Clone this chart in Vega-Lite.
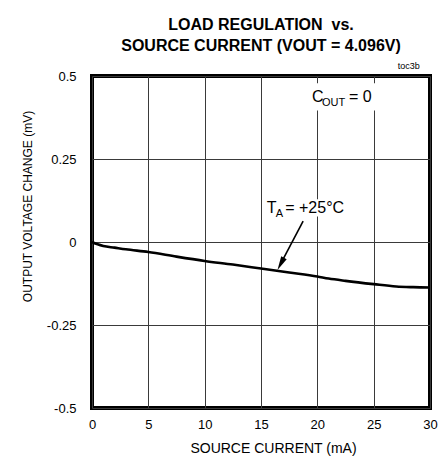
{
  "$schema": "https://vega.github.io/schema/vega-lite/v6.json",
  "width": 338,
  "height": 332,
  "autosize": {"type": "none"},
  "padding": {"left": 92, "top": 76, "right": 8, "bottom": 56},
  "background": "white",
  "title": {
    "text": ["LOAD REGULATION\u00a0 vs.", "SOURCE CURRENT (VOUT = 4.096V)"],
    "font": "Liberation Sans",
    "fontSize": 16,
    "fontWeight": "bold",
    "color": "black",
    "anchor": "middle",
    "offset": 8,
    "lineHeight": 21
  },
  "config": {
    "view": {"stroke": "black", "strokeWidth": 4},
    "axis": {
      "labelFont": "Liberation Sans",
      "titleFont": "Liberation Sans",
      "labelColor": "black",
      "titleColor": "black",
      "titleFontWeight": "normal",
      "ticks": false,
      "domain": false,
      "gridColor": "#3a3a3a",
      "gridWidth": 1,
      "gridOpacity": 1
    }
  },
  "encoding": {
    "x": {
      "field": "x",
      "type": "quantitative",
      "scale": {"domain": [0, 30], "nice": false, "zero": false},
      "axis": {
        "values": [0, 5, 10, 15, 20, 25, 30],
        "title": "SOURCE CURRENT (mA)",
        "labelFontSize": 13,
        "labelPadding": 10,
        "titleFontSize": 14,
        "titleX": 181,
        "titleY": 40,
        "titleBaseline": "middle",
        "titleAlign": "center",
        "labelFlush": false
      }
    },
    "y": {
      "field": "y",
      "type": "quantitative",
      "scale": {"domain": [-0.5, 0.5], "nice": false, "zero": false},
      "axis": {
        "values": [-0.5, -0.25, 0, 0.25, 0.5],
        "labelExpr": "toString(datum.value)",
        "title": "OUTPUT VOLTAGE CHANGE (mV)",
        "labelFontSize": 13,
        "labelPadding": 16,
        "titleFontSize": 12,
        "titleX": -65,
        "titleY": 130,
        "titleAngle": -90,
        "titleBaseline": "middle",
        "titleAlign": "center",
        "labelFlush": false
      }
    }
  },
  "layer": [
    {
      "data": {"values": [
        {"x": 0, "y": 0},
        {"x": 0.5, "y": -0.007},
        {"x": 1, "y": -0.012},
        {"x": 2, "y": -0.017},
        {"x": 3, "y": -0.022},
        {"x": 5, "y": -0.030},
        {"x": 7.5, "y": -0.044},
        {"x": 10, "y": -0.057},
        {"x": 12.5, "y": -0.068},
        {"x": 15, "y": -0.080},
        {"x": 17.5, "y": -0.092},
        {"x": 20, "y": -0.104},
        {"x": 21, "y": -0.110},
        {"x": 22.5, "y": -0.117},
        {"x": 25, "y": -0.127},
        {"x": 27, "y": -0.134},
        {"x": 28.5, "y": -0.136},
        {"x": 30, "y": -0.137}
      ]},
      "mark": {"type": "line", "color": "black", "strokeWidth": 2.6, "interpolate": "monotone"}
    },
    {
      "data": {"values": [
        {"x": 19.4, "xe": 25.3, "y": 0.396, "ye": 0.478},
        {"x": 15.4, "xe": 22.6, "y": 0.077, "ye": 0.129}
      ]},
      "mark": {"type": "rect", "fill": "white", "stroke": null},
      "encoding": {"x2": {"field": "xe"}, "y2": {"field": "ye"}}
    },
    {
      "data": {"values": [
        {"x": 15.5, "y": 0.086, "t": "T"},
        {"x": 17.15, "y": 0.086, "t": "= +25°C"},
        {"x": 19.52, "y": 0.421, "t": "C"},
        {"x": 22.8, "y": 0.421, "t": "= 0"}
      ]},
      "mark": {"type": "text", "font": "Liberation Sans", "fontSize": 16, "align": "left", "baseline": "alphabetic", "color": "black"},
      "encoding": {"text": {"field": "t"}}
    },
    {
      "data": {"values": [
        {"x": 16.3, "y": 0.074, "t": "A"},
        {"x": 20.41, "y": 0.409, "t": "OUT"}
      ]},
      "mark": {"type": "text", "font": "Liberation Sans", "fontSize": 11, "align": "left", "baseline": "alphabetic", "color": "black"},
      "encoding": {"text": {"field": "t"}}
    },
    {
      "data": {"values": [{"x": 29.1, "y": 0.53, "t": "toc3b"}]},
      "mark": {"type": "text", "font": "Liberation Sans", "fontSize": 9, "align": "right", "baseline": "middle", "color": "black"},
      "encoding": {"text": {"field": "t"}}
    },
    {
      "data": {"values": [
        {"x": 18.74, "y": 0.063},
        {"x": 16.8, "y": -0.062}
      ]},
      "mark": {"type": "line", "color": "black", "strokeWidth": 1.6},
      "encoding": {}
    },
    {
      "data": {"values": [{"x": 16.75, "y": -0.066}]},
      "mark": {"type": "point", "shape": "M0,-1L0.45,1L-0.45,1Z", "filled": true, "color": "black", "opacity": 1, "size": 190, "angle": 208}
    }
  ]
}
